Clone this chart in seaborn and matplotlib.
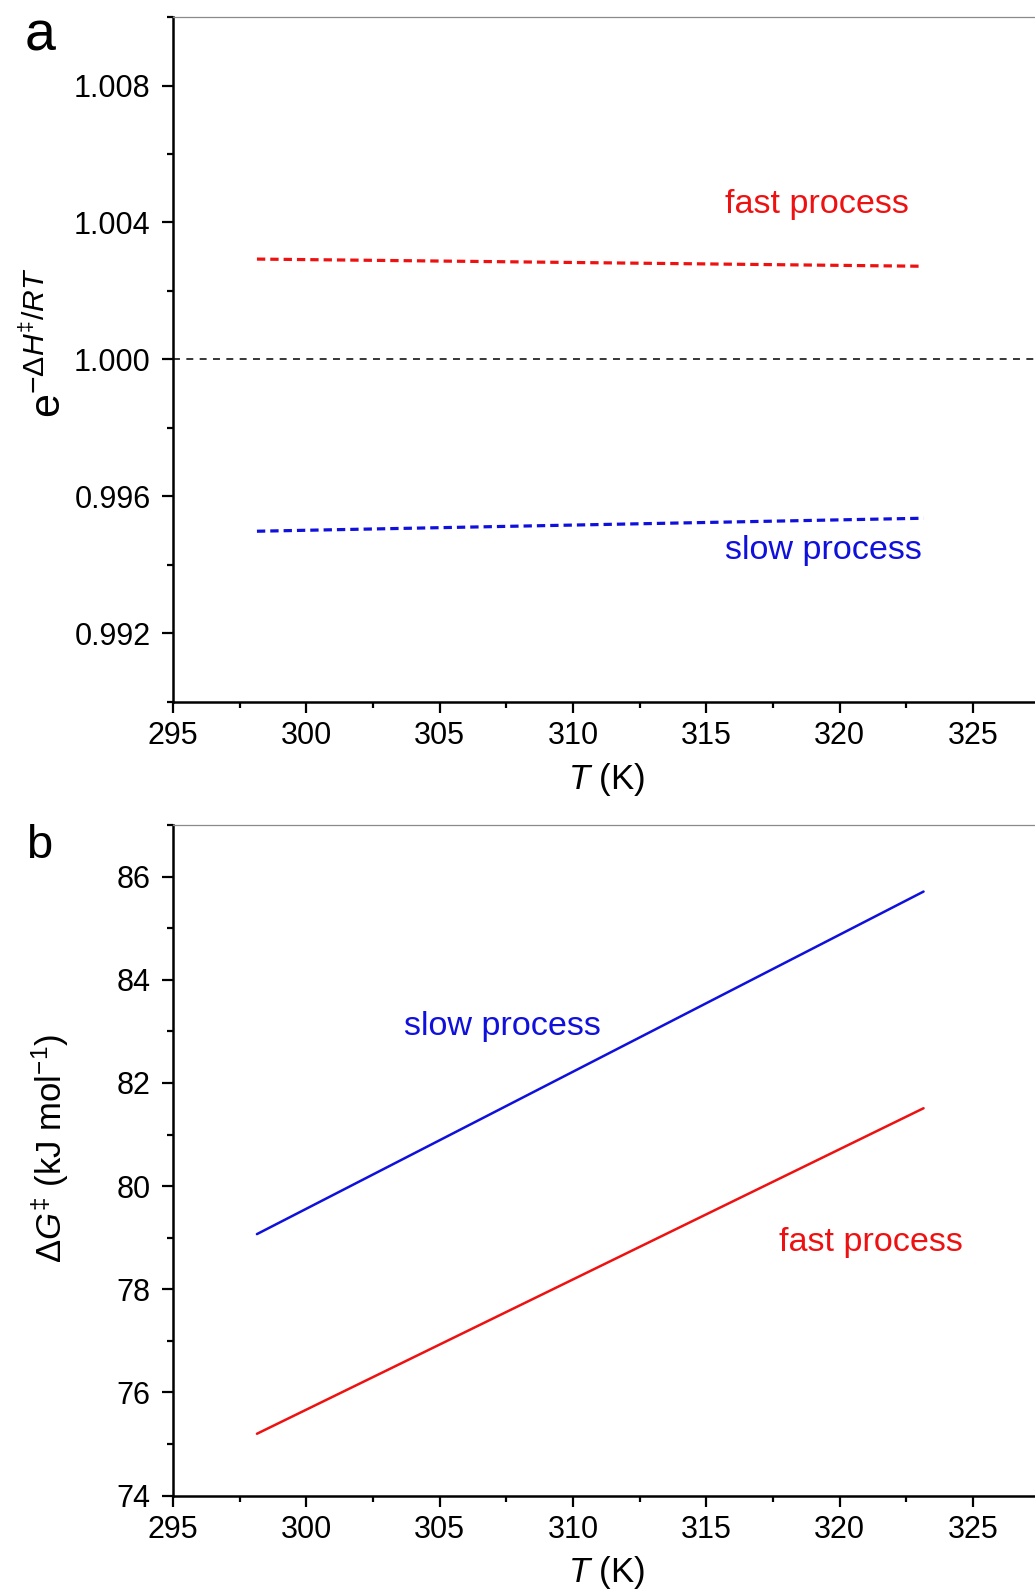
import matplotlib
matplotlib.use("Agg")
import matplotlib.pyplot as plt
from matplotlib.ticker import MultipleLocator
import pandas as pd
import seaborn as sns

# Temperatures (K) at which the activation parameters were evaluated
temps = [298.15, 323.15]

# Panel a: enthalpic factor exp(-dH/RT)
fast_exp = [1.00293, 1.00272]
slow_exp = [0.99498, 0.99536]

# Panel b: free energy of activation (kJ/mol)
fast_dg = [75.20, 81.51]
slow_dg = [79.07, 85.71]

x_ticks = [295, 300, 305, 310, 315, 320, 325]

sns.set_theme(style="ticks")
plt.rcParams["font.family"] = ["Liberation Sans", "DejaVu Sans"]
plt.rcParams["mathtext.fontset"] = "custom"
plt.rcParams["mathtext.rm"] = "Liberation Sans"
plt.rcParams["mathtext.it"] = "Liberation Sans:italic"
plt.rcParams["mathtext.bf"] = "Liberation Sans:bold"
plt.rcParams["lines.scale_dashes"] = False
for key in ("text.color", "axes.labelcolor", "xtick.color", "ytick.color",
            "xtick.labelcolor", "ytick.labelcolor", "axes.edgecolor"):
    plt.rcParams[key] = "black"

RED = "#ee1111"
BLUE = "#1010dd"
TICK_FS = 22
LABEL_FS = 25
NOTE_FS = 24.6

fig = plt.figure(figsize=(10.35, 15.93), dpi=100)
ax1 = fig.add_axes([0.1671, 0.5595, 0.8329, 0.4298])
ax2 = fig.add_axes([0.1671, 0.0611, 0.8329, 0.4210])

df_a = pd.DataFrame({
    "T": temps * 2,
    "val": fast_exp + slow_exp,
    "process": ["fast"] * 2 + ["slow"] * 2,
})
df_b = pd.DataFrame({
    "T": temps * 2,
    "val": fast_dg + slow_dg,
    "process": ["fast"] * 2 + ["slow"] * 2,
})
palette = {"fast": RED, "slow": BLUE}

# Panel a: dashed curves plus reference line at unity
ax1.axhline(1.0, color="black", lw=1.1, ls=(0, (5.0, 4.6)), zorder=1)
sns.lineplot(data=df_a, x="T", y="val", hue="process", palette=palette,
             ax=ax1, legend=False, lw=2.3)
for ln in ax1.get_lines()[1:]:
    ln.set_dashes((6.0, 3.6))

# Panel b: solid lines
sns.lineplot(data=df_b, x="T", y="val", hue="process", palette=palette,
             ax=ax2, legend=False, lw=1.8)

ax1.set_ylim(0.990, 1.010)
ax1.set_yticks([0.992, 0.996, 1.000, 1.004, 1.008])
ax1.set_yticklabels(["0.992", "0.996", "1.000", "1.004", "1.008"])
ax1.yaxis.set_minor_locator(MultipleLocator(0.002))

ax2.set_ylim(74, 87)
ax2.set_yticks([74, 76, 78, 80, 82, 84, 86])
ax2.yaxis.set_minor_locator(MultipleLocator(1))

for ax in (ax1, ax2):
    ax.set_xlim(295, 327.33)
    ax.set_xticks(x_ticks)
    ax.xaxis.set_minor_locator(MultipleLocator(2.5))
    ax.spines["right"].set_visible(False)
    ax.spines["top"].set_color("#8a8a8a")
    ax.spines["top"].set_linewidth(0.9)
    ax.spines["left"].set_linewidth(1.8)
    ax.spines["bottom"].set_linewidth(1.8)
    ax.spines["left"].set_color("black")
    ax.spines["bottom"].set_color("black")
    ax.tick_params(axis="both", which="major", direction="out", length=8,
                   width=1.6, labelsize=TICK_FS, color="black")
    ax.tick_params(axis="y", which="major", pad=8)
    ax.tick_params(axis="x", which="major", pad=6)
    ax.tick_params(axis="both", which="minor", direction="out", length=4,
                   width=1.6, color="black")
    ax.tick_params(top=False, right=False, which="both")
    ax.set_xlabel(r"$\mathit{T}$ (K)", fontsize=LABEL_FS)
    ax.xaxis.set_label_coords(0.503, -0.114)
    ax.xaxis.label.set_va("center")
    ax.set_facecolor("white")

ax1.set_ylabel(r"$\mathregular{e}^{-\Delta \mathit{H}^{\ddagger}/\mathit{RT}}$",
               fontsize=LABEL_FS + 6)
ax1.yaxis.set_label_coords(-0.147, 0.524)
ax1.yaxis.label.set_va("center")

ax2.set_ylabel(r"$\Delta\mathit{G}^{\ddagger}$ (kJ mol$^{-1}$)", fontsize=LABEL_FS)
ax2.yaxis.set_label_coords(-0.143, 0.518)
ax2.yaxis.label.set_va("center")

# Process labels
ax1.text(315.7, 1.00428, "fast process", color=RED, fontsize=NOTE_FS, va="baseline")
ax1.text(315.7, 0.99416, "slow process", color=BLUE, fontsize=NOTE_FS, va="baseline")
ax2.text(303.66, 82.92, "slow process", color=BLUE, fontsize=NOTE_FS, va="baseline")
ax2.text(317.72, 78.74, "fast process", color=RED, fontsize=NOTE_FS, va="baseline")

# Panel letters
fig.text(0.024, 0.968, "a", fontsize=40, va="baseline")
fig.text(0.025, 0.4614, "b", fontsize=34, va="baseline")

fig.savefig("out.png", dpi=100, facecolor="white")
